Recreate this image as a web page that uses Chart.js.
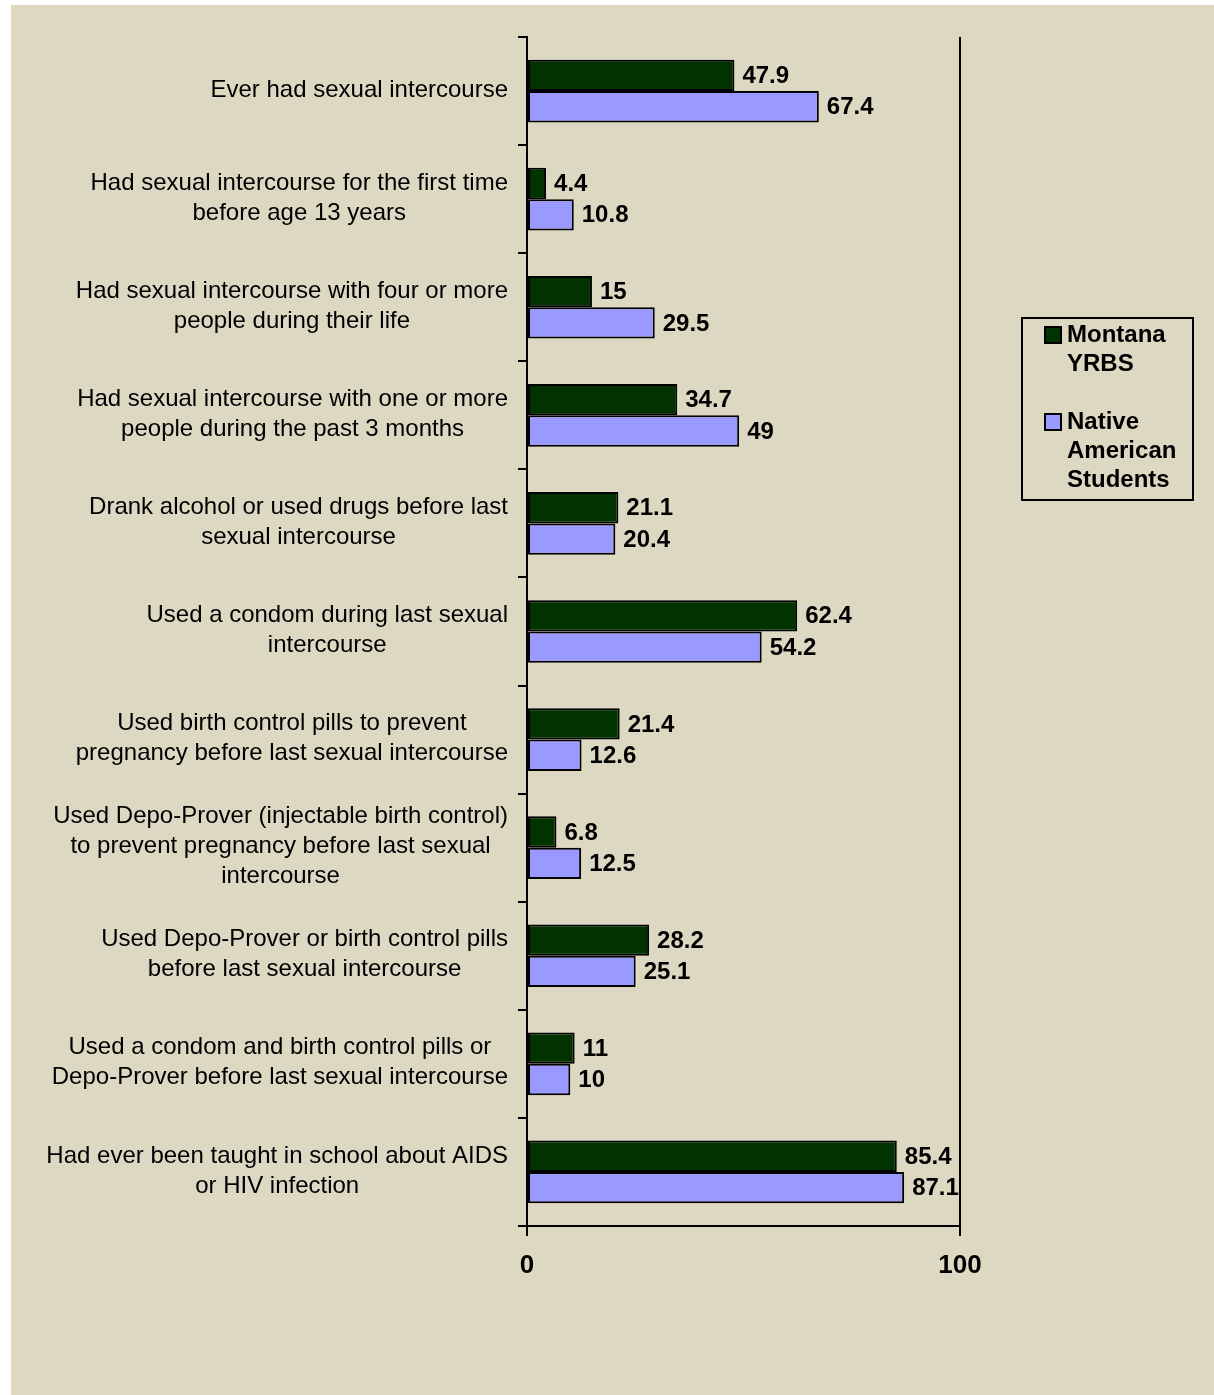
<!DOCTYPE html>
<html>
<head>
<meta charset="utf-8">
<script src="https://cdn.jsdelivr.net/npm/chart.js@4"></script>
<style>
body { margin: 0; background: #ffffff; }
#wrap { position: absolute; left: 11px; top: 5px; width: 1203px; height: 1390px; background: #DDD8C2; }
</style>
</head>
<body>
<div id="wrap"><canvas id="chart"></canvas></div>
<script>
// Chart data
const categories = [
    ['Ever had sexual intercourse'],
    ['Had sexual intercourse for the first time', 'before age 13 years'],
    ['Had sexual intercourse with four or more', 'people during their life'],
    ['Had sexual intercourse with one or more', 'people during the past 3 months'],
    ['Drank alcohol or used drugs before last', 'sexual intercourse'],
    ['Used a condom during last sexual', 'intercourse'],
    ['Used birth control pills to prevent', 'pregnancy before last sexual intercourse'],
    ['Used Depo-Prover (injectable birth control)', 'to prevent pregnancy before last sexual', 'intercourse'],
    ['Used Depo-Prover or birth control pills', 'before last sexual intercourse'],
    ['Used a condom and birth control pills or', 'Depo-Prover before last sexual intercourse'],
    ['Had ever been taught in school about AIDS', 'or HIV infection']
];
const montanaValues = [47.9, 4.4, 15, 34.7, 21.1, 62.4, 21.4, 6.8, 28.2, 11, 85.4];
const nativeValues = [67.4, 10.8, 29.5, 49, 20.4, 54.2, 12.6, 12.5, 25.1, 10, 87.1];
const seriesNames = [['Montana', 'YRBS'], ['Native', 'American', 'Students']];
const seriesColors = ['#003300', '#9999FF'];
const axisMin = 0;
const axisMax = 100;

const FONT = 'Arial, "Liberation Sans", sans-serif';

// Category labels: block right-aligned to the axis, lines centered within block
const categoryLabelPlugin = {
    id: 'categoryLabels',
    afterDraw(chart) {
        const ctx = chart.ctx;
        const yScale = chart.scales.y;
        ctx.save();
        ctx.font = '24px ' + FONT;
        ctx.fillStyle = '#000000';
        ctx.textAlign = 'center';
        ctx.textBaseline = 'middle';
        const right = yScale.right - 19;
        categories.forEach((lines, i) => {
            const cy = yScale.getPixelForValue(i);
            const maxW = Math.max(...lines.map(l => ctx.measureText(l).width));
            const cx = right - maxW / 2;
            lines.forEach((line, j) => {
                ctx.fillText(line, cx, cy - 1 + (j - (lines.length - 1) / 2) * 30);
            });
        });
        ctx.restore();
    }
};

// Value labels at the end of each bar
const valueLabelPlugin = {
    id: 'valueLabels',
    afterDatasetsDraw(chart) {
        const ctx = chart.ctx;
        ctx.save();
        ctx.font = 'bold 24px ' + FONT;
        ctx.fillStyle = '#000000';
        ctx.textAlign = 'left';
        ctx.textBaseline = 'middle';
        chart.data.datasets.forEach((ds, di) => {
            chart.getDatasetMeta(di).data.forEach((bar, i) => {
                ctx.fillText(String(ds.data[i]), bar.x + 8, bar.y + 1);
            });
        });
        ctx.restore();
    }
};

// Boxed legend on the right
const boxLegendPlugin = {
    id: 'boxLegend',
    afterDraw(chart) {
        const ctx = chart.ctx;
        const left = chart.chartArea.right + 62;
        const top = 313;
        ctx.save();
        ctx.strokeStyle = '#000000';
        ctx.lineWidth = 2;
        ctx.strokeRect(left, top, 171, 182);
        ctx.font = 'bold 24px ' + FONT;
        ctx.textAlign = 'left';
        ctx.textBaseline = 'middle';
        let y = top + 17;
        seriesNames.forEach((lines, i) => {
            ctx.fillStyle = seriesColors[i];
            ctx.fillRect(left + 23, y - 8, 16, 16);
            ctx.strokeStyle = '#000000';
            ctx.lineWidth = 2;
            ctx.strokeRect(left + 23, y - 8, 16, 16);
            ctx.fillStyle = '#000000';
            lines.forEach((line, j) => {
                ctx.fillText(line, left + 45, y + j * 29);
            });
            y += lines.length * 29 + 29;
        });
        ctx.restore();
    }
};

const ctx = document.getElementById('chart').getContext('2d');
new Chart(ctx, {
    type: 'bar',
    data: {
        labels: categories,
        datasets: [
            {
                label: seriesNames[0].join(' '),
                data: montanaValues,
                backgroundColor: seriesColors[0],
                borderColor: '#000000',
                borderWidth: 2,
                borderSkipped: false,
                categoryPercentage: 0.58,
                barPercentage: 1.0
            },
            {
                label: seriesNames[1].join(' '),
                data: nativeValues,
                backgroundColor: seriesColors[1],
                borderColor: '#000000',
                borderWidth: 2,
                borderSkipped: false,
                categoryPercentage: 0.58,
                barPercentage: 1.0
            }
        ]
    },
    options: {
        indexAxis: 'y',
        responsive: true,
        maintainAspectRatio: false,
        animation: false,
        layout: {
            padding: { top: 32, right: 254, bottom: 109, left: 0 }
        },
        plugins: {
            legend: { display: false },
            tooltip: { enabled: false }
        },
        scales: {
            x: {
                min: axisMin,
                max: axisMax,
                afterBuildTicks(scale) {
                    scale.ticks = [{ value: axisMin }, { value: axisMax }];
                },
                afterFit(scale) {
                    scale.height = 60;
                },
                grid: {
                    color: '#000000',
                    lineWidth: 2,
                    tickLength: 10,
                    drawOnChartArea: true
                },
                border: { display: true, color: '#000000', width: 2 },
                ticks: {
                    color: '#000000',
                    font: { family: FONT, size: 26, weight: 'bold' },
                    padding: 14,
                    maxRotation: 0
                }
            },
            y: {
                afterFit(scale) {
                    scale.width = 516;
                },
                grid: {
                    color: '#000000',
                    lineWidth: 2,
                    tickLength: 9,
                    drawOnChartArea: false,
                    offset: true
                },
                border: { display: true, color: '#000000', width: 2 },
                ticks: { display: false }
            }
        }
    },
    plugins: [categoryLabelPlugin, valueLabelPlugin, boxLegendPlugin]
});
</script>
</body>
</html>
